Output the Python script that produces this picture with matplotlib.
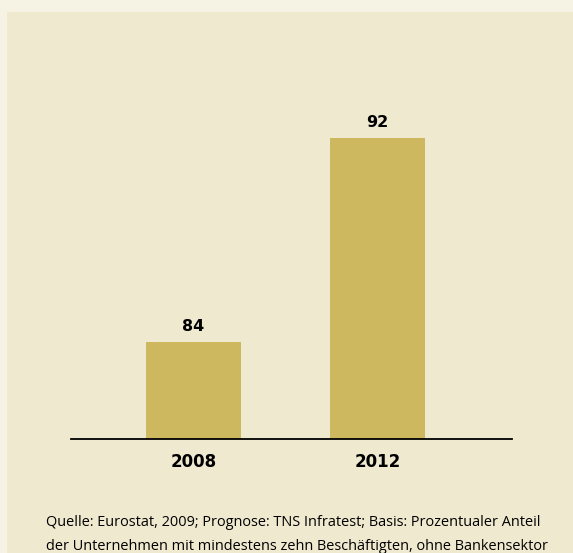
import matplotlib.pyplot as plt
import matplotlib.patches as patches

years = ["2008", "2012"]
shares = [84, 92]
source_lines = [
    "Quelle: Eurostat, 2009; Prognose: TNS Infratest; Basis: Prozentualer Anteil",
    "der Unternehmen mit mindestens zehn Beschäftigten, ohne Bankensektor",
]

W, H = 573, 553
outer_bg = "#f7f3e4"
panel_bg = "#efe9cf"
bar_color = "#cdb85f"

fig = plt.figure(figsize=(W / 100, H / 100), dpi=100)
fig.patch.set_facecolor(outer_bg)

# inner panel
fig.patches.append(patches.Rectangle((7 / W, 0), 1, 1 - 12 / H, transform=fig.transFigure,
                                     facecolor=panel_bg, edgecolor="none", zorder=-1))

# axes placed in pixel coordinates
left, right, bottom, top = 71, 512, 439, 100
ax = fig.add_axes([left / W, (H - bottom) / H, (right - left) / W, (bottom - top) / H])
ax.set_facecolor("none")

x = range(len(years))
ax.bar(x, shares, width=0.516, color=bar_color, zorder=2)
ax.set_xlim(-0.666, 1.731)
y0 = 80.2
ax.set_ylim(y0, y0 + (bottom - top) / 25.5)
for xi, v in zip(x, shares):
    ax.annotate(str(v), (xi, v), xytext=(0, 6), textcoords="offset points",
                ha="center", va="bottom", fontsize=11.5, fontweight="bold")

ax.set_xticks(list(x))
ax.set_xticklabels(years, fontsize=12, fontweight="bold")
ax.tick_params(axis="x", length=0, pad=10)
ax.set_yticks([])
for side in ["left", "right", "top"]:
    ax.spines[side].set_visible(False)
ax.spines["bottom"].set_linewidth(1.3)
ax.spines["bottom"].set_zorder(3)

for i, line in enumerate(source_lines):
    fig.text(46 / W, 1 - (522 + 25 * i) / H, line, fontsize=10.45, family="Open Sans",
             ha="left", va="center")

fig.savefig("out.png", dpi=100, facecolor=outer_bg)
